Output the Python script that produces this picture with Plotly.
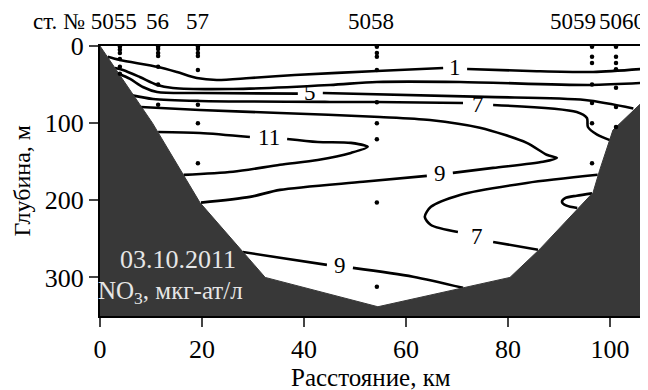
import plotly.graph_objects as go

FONT = "Liberation Serif"

# ---------------- data ----------------
# bottom topography (distance km, depth m)
bottom_x = [0.0, 10.3, 19.6, 32.4, 54.5, 80.4, 86.3, 96.7, 98.0, 100.6, 106.3]
bottom_d = [0.0, 100, 203, 300, 338, 300, 263, 190, 161, 109, 73]

# stations
station_names = ["5055", "56", "57", "5058", "5059", "5060"]
station_x = [3.9, 11.4, 19.2, 54.3, 96.5, 101.2]
station_depths = [
    [1, 5, 9, 17, 27, 36],
    [1, 4, 9, 13, 27, 50, 76],
    [1, 4, 9, 13, 31, 76, 100, 152],
    [1, 9, 14, 31, 73, 100, 121, 203, 312],
    [1, 14, 22, 50, 74, 100, 152],
    [1, 14, 22, 30, 54, 79, 105],
]

# NO3 isolines (None = gap for the label)
iso1_x = [1.5, 3.9, 11.4, 15.1, 19.0, 22.9, 29.4, 38.2, 54.3, 67.3, None, 72.0, 84.3, 96.7, 106.3]
iso1_d = [14, 18.1, 27.2, 33.7, 41.5, 44.0, 41.5, 37.6, 32.4, 28.5, None, 29.8, 32.4, 33.7, 29.8]

iso3_x = [2.9, 4.5, 7.8, 11.2, 14.3, 26.1, 45.1, 54.3, 70.6, 96.1, 106.3]
iso3_d = [28.5, 31.1, 40.2, 50.5, 54.4, 55.7, 50.5, 46.6, 46.6, 50.5, 47.9]

iso5_x = [3.7, 5.9, 8.4, 11.2, 19.6, 38.8, None, 43.7, 75.5, 95.1, 104.6]
iso5_d = [36, 42.7, 53.1, 59.6, 60.9, 61.8, None, 60.9, 66, 70, 81]

iso7_x = [6.3, 10.4, 19.6, 45.1, 54.3, 71.2, None, 77.1, 93.5, 95.5, 95.7, 97.5, 100.0]
iso7_d = [64, 68.7, 71.2, 72.5, 72.5, 73.8, None, 76.4, 85.5, 93.3, 105, 115, 122]

iso9a_x = [8.0, 19.6, 35.3, 54.9, 64.7, 74.5, 83.7, 87.6, 89.6, 86.9, 77.1, 69.2, None,
           64.1, 51.6, 35.3, 29.4, 19.8]
iso9a_d = [79, 82.9, 86.8, 92, 95.9, 106, 125.6, 141, 145, 150, 158, 164.5, None,
           168.4, 176, 186.5, 195.6, 203]

iso11_x = [11.4, 19.6, 29.4, None, 36.7, 42.7, 49.2, 52.5, 49.2, 42.7, 35.3, 26.1, 16.4]
iso11_d = [111.4, 112.7, 117.9, None, 120.5, 124.4, 125.6, 130.8, 138.6, 147.7, 154, 163, 167]

iso9b_x = [28.0, 35.3, 44.5, None, 49.6, 61.4, 71.2]
iso9b_d = [267, 274.6, 283.7, None, 287.6, 299, 313.5]

iso7b_x = [97.6, 83.7, 70.6, 64.9, 63.7, 64.9, 70.2, None, 77.1, 85.9]
iso7b_d = [167, 177.5, 193, 208.5, 221.5, 232, 241, None, 254, 264]

iso_small_x = [96.5, 93.5, 91.3, 90.6, 91.5, 93.6]
iso_small_d = [191, 194, 197, 202, 207, 210]

# labels on isolines
label_text = ["1", "5", "7", "11", "9", "9", "7"]
label_x = [69.6, 41.2, 74.1, 33.1, 66.7, 47.1, 73.9]
label_d = [28.5, 60.5, 76.4, 119, 165, 284, 247]

x_ticks = [0, 20, 40, 60, 80, 100]
y_ticks = [0, 100, 200, 300]

# ---------------- figure ----------------
fig = go.Figure()

isolines = [(iso1_x, iso1_d), (iso3_x, iso3_d), (iso5_x, iso5_d), (iso7_x, iso7_d),
            (iso9a_x, iso9a_d), (iso11_x, iso11_d), (iso9b_x, iso9b_d),
            (iso7b_x, iso7b_d), (iso_small_x, iso_small_d)]
for xs, ds in isolines:
    fig.add_trace(go.Scatter(x=xs, y=ds, mode="lines",
                             line=dict(color="black", width=2.6, shape="spline", smoothing=0.8),
                             connectgaps=False, hoverinfo="skip", showlegend=False))

# bottom
poly_x = bottom_x + [bottom_x[-1], bottom_x[0]]
poly_d = bottom_d + [350, 350]
fig.add_trace(go.Scatter(x=poly_x, y=poly_d, mode="lines", fill="toself",
                         fillcolor="#383838", line=dict(color="#383838", width=1),
                         hoverinfo="skip", showlegend=False))

# station dots
for sx, deps in zip(station_x, station_depths):
    fig.add_trace(go.Scatter(x=[sx] * len(deps), y=deps, mode="markers",
                             marker=dict(color="black", size=4.5),
                             hoverinfo="skip", showlegend=False))

# isoline labels
for t, lx, ld in zip(label_text, label_x, label_d):
    fig.add_annotation(x=lx, y=ld, text=t, showarrow=False,
                       font=dict(family=FONT, size=23, color="black"))

# station labels
station_label_x = [7.7, 11.2, 19.2, 53.1, 92.7, 102.4]
for i, (nm, lx) in enumerate(zip(station_names, station_label_x)):
    txt = "ст. № " + nm if i == 0 else nm
    fig.add_annotation(x=lx, xref="x", y=1.089, yref="paper", text=txt, showarrow=False,
                       xanchor="right" if i == 0 else "center", yanchor="middle",
                       font=dict(family=FONT, size=23, color="black"))

# date / parameter
fig.add_annotation(x=15.3, y=277, text="03.10.2011", showarrow=False,
                   font=dict(family=FONT, size=26, color="#e6e6e6"))
fig.add_annotation(x=13.8, y=319, text="NO<sub>3</sub>, мкг-ат/л", showarrow=False,
                   font=dict(family=FONT, size=25, color="#e6e6e6"))

# axis titles
fig.add_annotation(x=0.5, xref="paper", y=-0.228, yref="paper", text="Расстояние, км",
                   showarrow=False, xanchor="center", yanchor="middle",
                   font=dict(family=FONT, size=25, color="black"))
fig.add_annotation(x=-0.143, xref="paper", y=0.5, yref="paper", text="Глубина, м",
                   showarrow=False, textangle=-90, xanchor="center", yanchor="middle",
                   font=dict(family=FONT, size=24, color="black"))

fig.update_xaxes(range=[0, 106.3], tickvals=x_ticks, ticks="outside", ticklen=9, tickwidth=2,
                 showline=True, linewidth=2, linecolor="black", mirror=True,
                 showgrid=False, zeroline=False, automargin=False,
                 tickfont=dict(family=FONT, size=26, color="black"))
fig.update_yaxes(range=[350, 0], tickvals=y_ticks, ticks="outside", ticklen=9, tickwidth=2,
                 showline=True, linewidth=2, linecolor="black", mirror=True,
                 showgrid=False, zeroline=False, automargin=False,
                 tickfont=dict(family=FONT, size=26, color="black"))

# the page body adds an 8 px offset, so the figure is sized/margined to compensate
fig.update_layout(width=640, height=382, margin=dict(l=92, r=6, t=38, b=74),
                  plot_bgcolor="white", paper_bgcolor="white")

fig.write_html("out.html")
